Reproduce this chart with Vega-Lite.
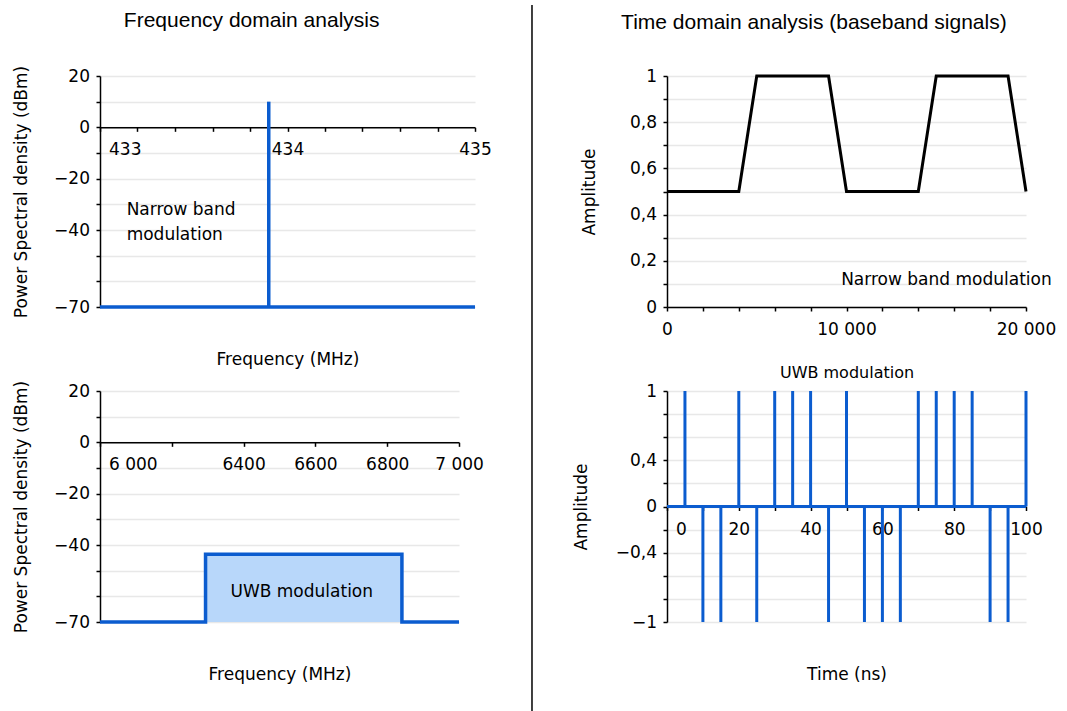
{
  "$schema": "https://vega.github.io/schema/vega-lite/v6.json",
  "background": "white",
  "padding": {"left": 12, "top": 4, "right": 0, "bottom": 0},
  "spacing": 0,
  "config": {
    "view": {"stroke": null},
    "font": "DejaVu Sans",
    "axis": {
      "labelFont": "DejaVu Sans", "labelFontSize": 17, "labelColor": "#000",
      "titleFont": "DejaVu Sans", "titleFontSize": 17, "titleFontWeight": "normal", "titleColor": "#000",
      "domainColor": "#000", "domainWidth": 1.5, "tickColor": "#000", "tickWidth": 1.5, "tickSize": 4,
      "labelFlush": false, "labelOverlap": false, "labelBound": false,
      "gridColor": "#e8e8e8", "gridWidth": 1.5
    },
    "axisX": {"grid": false, "labelPadding": 10.5},
    "axisY": {"grid": true, "labelPadding": 6.5, "titlePadding": 27},
    "title": {"font": "Liberation Sans", "fontSize": 21, "fontWeight": "normal", "color": "#000", "anchor": "middle"},
    "text": {"font": "DejaVu Sans", "fontSize": 17, "color": "#000"}
  },
  "hconcat": [
    {
      "title": {"text": "Frequency domain analysis", "offset": 34, "anchor": "middle"},
      "bounds": "flush",
      "spacing": 84,
      "vconcat": [
        {
          "width": 375, "height": 231,
          "encoding": {
            "x": {"field": "f", "type": "quantitative",
              "scale": {"domain": [433, 435], "nice": false, "zero": false},
              "axis": {"title": "Frequency (MHz)", "offset": -179.67, "titleY": 224,
                "values": [433, 433.2, 433.4, 433.6, 433.8, 434, 434.2, 434.4, 434.6, 434.8, 435],
                "labelExpr": "abs(datum.value-433)<0.01?'433':abs(datum.value-434)<0.01?'434':abs(datum.value-435)<0.01?'435':''",
                "labelAlign": {"condition": {"test": "datum.value < 433.1", "value": "left"}, "value": "center"},
                "labelOffset": {"condition": {"test": "datum.value < 433.1", "value": 8.5}, "value": 0},
                "encode": {"ticks": {"update": {"y": {"value": -4}}}}}},
            "y": {"field": "p", "type": "quantitative",
              "scale": {"domain": [-70, 20], "nice": false, "zero": false},
              "axis": {"title": "Power Spectral density (dBm)", "titlePadding": 23.5,
                "values": [-70, -60, -50, -40, -30, -20, -10, 0, 10, 20],
                "labelExpr": "datum.value==20?'20':datum.value==0?'0':datum.value==-20?'−20':datum.value==-40?'−40':datum.value==-70?'−70':''",
                "encode": {"ticks": {"update": {"x": {"value": 4}}}}}}
          },
          "layer": [
            {"data": {"values": [{"f": 433, "f2": 435, "p": -70}]},
              "mark": {"type": "rule", "color": "#0b5ccf", "strokeWidth": 3.5},
              "encoding": {"x2": {"field": "f2"}}},
            {"data": {"values": [{"f": 433.9, "p": -70, "p2": 10}]},
              "mark": {"type": "rule", "color": "#0b5ccf", "strokeWidth": 3.5},
              "encoding": {"y2": {"field": "p2"}}},
            {"data": {"values": [{"f": 433.142, "p": -34.0, "label": "Narrow band\nmodulation"}]},
              "mark": {"type": "text", "align": "left", "baseline": "alphabetic", "fontSize": 17, "lineHeight": 25.5, "lineBreak": "\n"},
              "encoding": {"text": {"field": "label"}}}
          ]
        },
        {
          "width": 359, "height": 231,
          "encoding": {
            "x": {"field": "f", "type": "quantitative",
              "scale": {"domain": [6000, 7000], "nice": false, "zero": false},
              "axis": {"title": "Frequency (MHz)", "offset": -179.67, "titleY": 224,
                "values": [6000, 6200, 6400, 6600, 6800, 7000],
                "labelExpr": "datum.value==6000?'6 000':datum.value==6400?'6400':datum.value==6600?'6600':datum.value==6800?'6800':datum.value==7000?'7 000':''",
                "labelAlign": {"condition": {"test": "datum.value < 6100", "value": "left"}, "value": "center"},
                "labelOffset": {"condition": {"test": "datum.value < 6100", "value": 8.5}, "value": 0},
                "encode": {"ticks": {"update": {"y": {"value": -4}}}}}},
            "y": {"field": "p", "type": "quantitative",
              "scale": {"domain": [-70, 20], "nice": false, "zero": false},
              "axis": {"title": "Power Spectral density (dBm)", "titlePadding": 23.5,
                "values": [-70, -60, -50, -40, -30, -20, -10, 0, 10, 20],
                "labelExpr": "datum.value==20?'20':datum.value==0?'0':datum.value==-20?'−20':datum.value==-40?'−40':datum.value==-70?'−70':''",
                "encode": {"ticks": {"update": {"x": {"value": 4}}}}}}
          },
          "layer": [
            {"data": {"values": [{"f": 6294, "f2": 6841, "p": -70, "p2": -43.6}]},
              "mark": {"type": "rect", "color": "#b8d7fa"},
              "encoding": {"x2": {"field": "f2"}, "y2": {"field": "p2"}}},
            {"data": {"values": [
                {"f": 6000, "p": -70, "o": 0},
                {"f": 6294, "p": -70, "o": 1},
                {"f": 6294, "p": -43.6, "o": 2},
                {"f": 6841, "p": -43.6, "o": 3},
                {"f": 6841, "p": -70, "o": 4},
                {"f": 7000, "p": -70, "o": 5}]},
              "mark": {"type": "line", "color": "#0b5ccf", "strokeWidth": 3.5},
              "encoding": {"order": {"field": "o", "type": "quantitative"}}},
            {"data": {"values": [{"f": 6562, "p": -60.2, "label": "UWB modulation"}]},
              "mark": {"type": "text", "align": "center", "baseline": "alphabetic", "fontSize": 17},
              "encoding": {"text": {"field": "label"}}}
          ]
        }
      ]
    },
    {
      "width": 79.5, "height": 635,
      "data": {"values": [{"x": 0.503, "y": 1.1118, "y2": 0}]},
      "mark": {"type": "rule", "color": "#000", "strokeWidth": 1.5},
      "encoding": {
        "x": {"field": "x", "type": "quantitative", "scale": {"domain": [0, 1]}, "axis": null},
        "y": {"field": "y", "type": "quantitative", "scale": {"domain": [0, 1]}, "axis": null},
        "y2": {"field": "y2"}
      }
    },
    {
      "title": {"text": "Time domain analysis (baseband signals)", "offset": 34, "anchor": "middle"},
      "bounds": "flush",
      "spacing": 84,
      "vconcat": [
        {
          "width": 359, "height": 231,
          "encoding": {
            "x": {"field": "t", "type": "quantitative",
              "scale": {"domain": [0, 20000], "nice": false, "zero": false},
              "axis": {"title": "UWB modulation", "titleFontSize": 16, "titleY": 57,
                "values": [0, 2000, 4000, 6000, 8000, 10000, 12000, 14000, 16000, 18000, 20000],
                "labelExpr": "datum.value==0?'0':datum.value==10000?'10 000':datum.value==20000?'20 000':''",
                "encode": {"ticks": {"update": {"y": {"value": -4}}}}}},
            "y": {"field": "a", "type": "quantitative",
              "scale": {"domain": [0, 1], "nice": false, "zero": false},
              "axis": {"title": "Amplitude", "titlePadding": 30.7,
                "values": [0, 0.1, 0.2, 0.3, 0.4, 0.5, 0.6, 0.7, 0.8, 0.9, 1],
                "labelExpr": "datum.value==0?'0':abs(datum.value-0.2)<0.01?'0,2':abs(datum.value-0.4)<0.01?'0,4':abs(datum.value-0.6)<0.01?'0,6':abs(datum.value-0.8)<0.01?'0,8':datum.value==1?'1':''",
                "encode": {"ticks": {"update": {"x": {"value": 4}}}}}}
          },
          "layer": [
            {"data": {"values": [
                {"t": 0, "a": 0.5}, {"t": 4000, "a": 0.5}, {"t": 5000, "a": 1}, {"t": 9000, "a": 1},
                {"t": 10000, "a": 0.5}, {"t": 14000, "a": 0.5}, {"t": 15000, "a": 1}, {"t": 19000, "a": 1},
                {"t": 20000, "a": 0.5}]},
              "mark": {"type": "line", "color": "#000", "strokeWidth": 3}},
            {"data": {"values": [{"t": 9702, "a": 0.0935, "label": "Narrow band modulation"}]},
              "mark": {"type": "text", "align": "left", "baseline": "alphabetic", "fontSize": 17},
              "encoding": {"text": {"field": "label"}}}
          ]
        },
        {
          "width": 359, "height": 231,
          "encoding": {
            "x": {"field": "t", "type": "quantitative",
              "scale": {"domain": [0, 100], "nice": false, "zero": false},
              "axis": {"title": "Time (ns)", "offset": -115.5, "titleY": 160,
                "values": [0, 10, 20, 30, 40, 50, 60, 70, 80, 90, 100],
                "labelExpr": "datum.value%20==0?format(datum.value,'d'):''",
                "labelAlign": {"condition": {"test": "datum.value < 1", "value": "left"}, "value": "center"},
                "labelOffset": {"condition": {"test": "datum.value < 1", "value": 8.5}, "value": 0},
                "encode": {"ticks": {"update": {"y": {"value": -4}}}}}},
            "y": {"field": "a", "type": "quantitative",
              "scale": {"domain": [-1, 1], "nice": false, "zero": false},
              "axis": {"title": "Amplitude", "titlePadding": 25.2,
                "values": [-1, -0.8, -0.6, -0.4, -0.2, 0, 0.2, 0.4, 0.6, 0.8, 1],
                "labelExpr": "datum.value==1?'1':abs(datum.value-0.4)<0.01?'0,4':datum.value==0?'0':abs(datum.value+0.4)<0.01?'−0,4':datum.value==-1?'−1':''",
                "encode": {"ticks": {"update": {"x": {"value": 4}}}}}}
          },
          "layer": [
            {"data": {"values": [{"t": 0, "t2": 100, "a": 0}]},
              "mark": {"type": "rule", "color": "#0b5ccf", "strokeWidth": 3},
              "encoding": {"x2": {"field": "t2"}}},
            {"data": {"values": [
                {"t": 5, "a": 0, "a2": 1}, {"t": 10, "a": 0, "a2": -1}, {"t": 15, "a": 0, "a2": -1},
                {"t": 20, "a": 0, "a2": 1}, {"t": 25, "a": 0, "a2": -1}, {"t": 30, "a": 0, "a2": 1},
                {"t": 35, "a": 0, "a2": 1}, {"t": 40, "a": 0, "a2": 1}, {"t": 45, "a": 0, "a2": -1},
                {"t": 50, "a": 0, "a2": 1}, {"t": 55, "a": 0, "a2": -1}, {"t": 60, "a": 0, "a2": -1},
                {"t": 65, "a": 0, "a2": -1}, {"t": 70, "a": 0, "a2": 1}, {"t": 75, "a": 0, "a2": 1},
                {"t": 80, "a": 0, "a2": 1}, {"t": 85, "a": 0, "a2": 1}, {"t": 90, "a": 0, "a2": -1},
                {"t": 95, "a": 0, "a2": -1}, {"t": 100, "a": 0, "a2": 1}]},
              "mark": {"type": "rule", "color": "#0b5ccf", "strokeWidth": 3},
              "encoding": {"y2": {"field": "a2"}}}
          ]
        }
      ]
    }
  ]
}
